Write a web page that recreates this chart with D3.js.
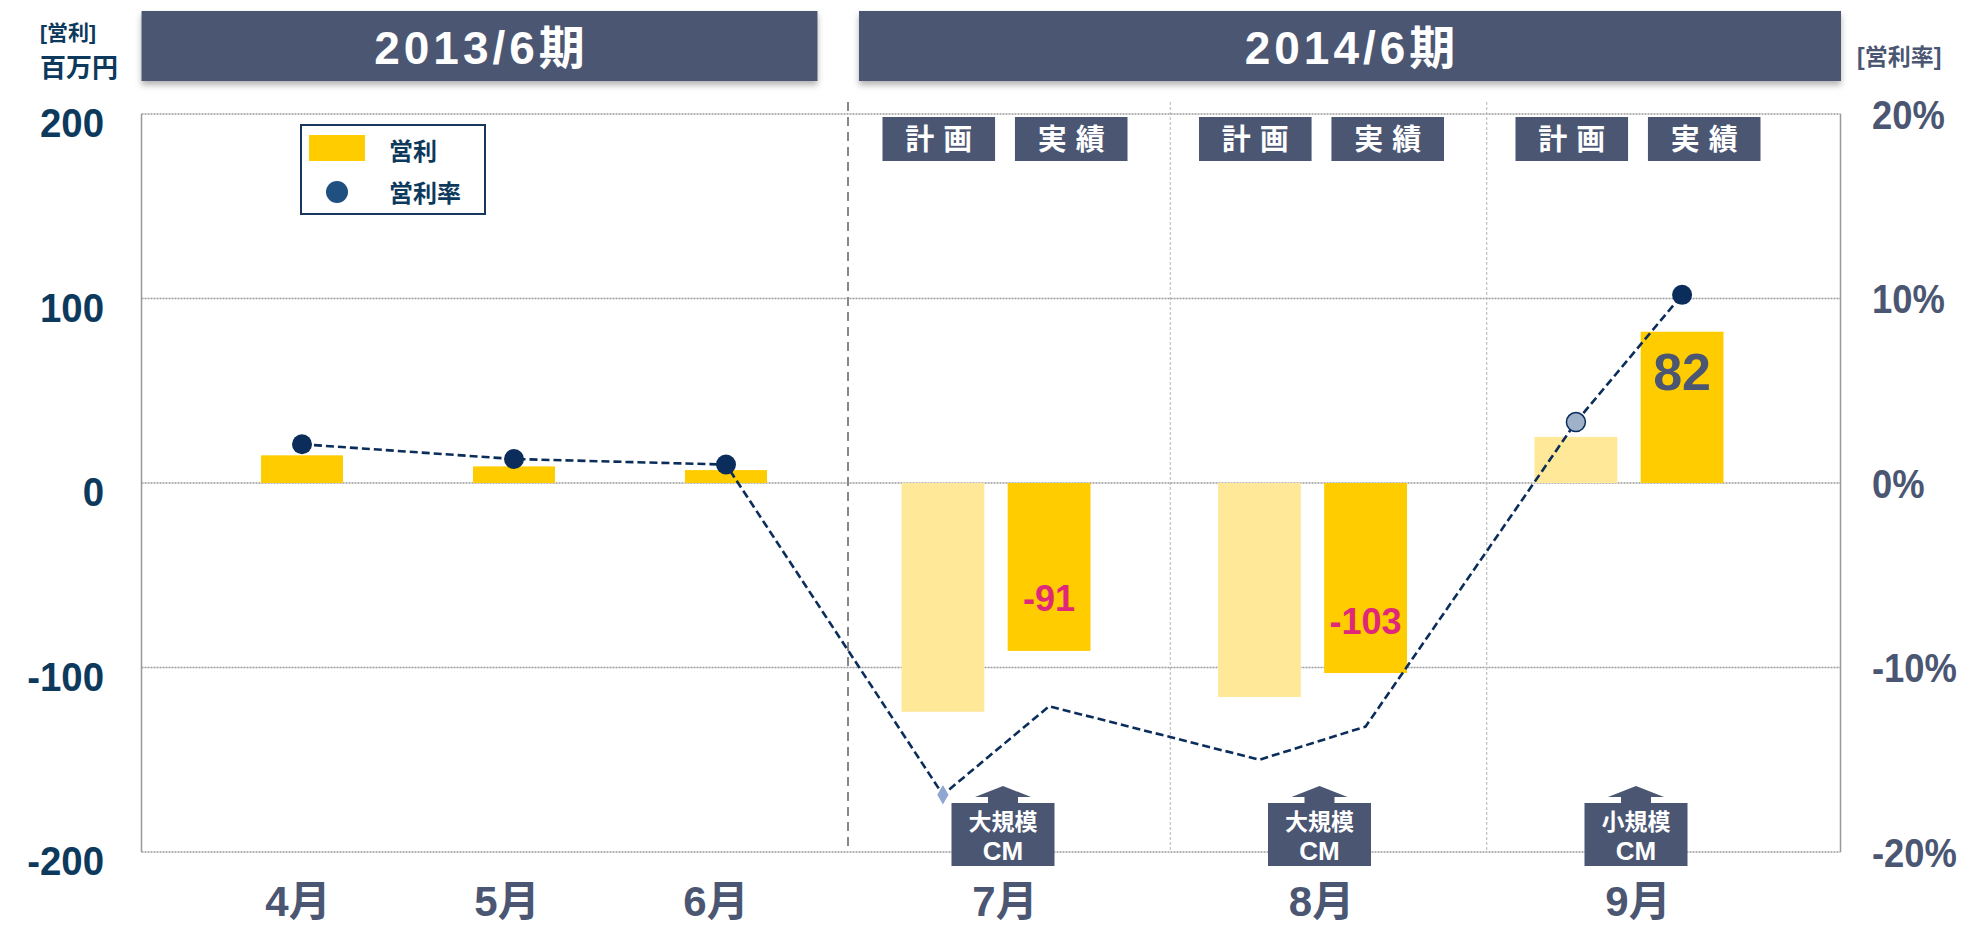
<!DOCTYPE html>
<html>
<head>
<meta charset="utf-8">
<script src="https://cdn.jsdelivr.net/npm/d3@7"></script>
<style>
  html, body { margin: 0; padding: 0; background: #fff; }
  svg { display: block; }
  text { font-family: "Liberation Sans Narrow", "Liberation Sans", "Noto Sans CJK JP", sans-serif; font-weight: bold; }
</style>
</head>
<body>
<svg id="chart" width="1964" height="927"></svg>
<script>
// ---------- data ----------
const periods = ["2013/6期", "2014/6期"];
const months1 = ["4月", "5月", "6月"];
const profit1 = [15, 9, 7];
const ratio1 = [2.1, 1.3, 1.0];
const months2 = ["7月", "8月", "9月"];
const kinds = ["計画", "実績"];
const profitPlan = [-124, -116, 25];
const profitActual = [-91, -103, 82];
const ratioPlan = [-16.9, -15.0, 3.3];
const ratioActual = [-12.1, -13.2, 10.2];
const cmLabels = ["大規模", "大規模", "小規模"];
const leftTicks = [200, 100, 0, -100, -200];
const rightTicks = [20, 10, 0, -10, -20];
const legendItems = ["営利", "営利率"];

// ---------- layout ----------
const plot = { left: 141.5, right: 1840.5, top: 114, bottom: 852 };
const sepX = 848;
const svg = d3.select("#chart");

const C = {
  slate: "#4B5673",
  teal: "#0D3A5C",
  navy: "#0B2D5B",
  actual: "#FFCC00",
  plan: "#FFE999",
  grid: "#9a9a9a",
  pink: "#E0287A"
};

const y = d3.scaleLinear().domain([-200, 200]).range([plot.bottom, plot.top]);
const yR = d3.scaleLinear().domain([-20, 20]).range([plot.bottom, plot.top]);
const x1 = d3.scalePoint().domain(months1).range([302, 726]);
const x2 = d3.scalePoint().domain(months2).range([1005, 1638]);
const inner = d3.scaleBand().domain(kinds).range([-103.5, 85.5]).paddingInner(0.22);
const boxBand = d3.scaleBand().domain(kinds).range([-122.5, 122.5]).paddingInner(0.15);
const barW1 = 82;

// filters
const defs = svg.append("defs");
const f = defs.append("filter").attr("id", "shadow").attr("x", "-5%").attr("y", "-20%").attr("width", "110%").attr("height", "150%");
f.append("feDropShadow").attr("dx", 0).attr("dy", 4).attr("stdDeviation", 3).attr("flood-color", "#000").attr("flood-opacity", 0.3);

// ---------- header boxes ----------
const periodScale = d3.scaleOrdinal().domain(periods).range([[141.5, 817.5], [859, 1841]]);
const hdr = svg.append("g");
periods.forEach(p => {
  const [a, b] = periodScale(p);
  hdr.append("rect").attr("x", a).attr("y", 11).attr("width", b - a).attr("height", 70)
    .attr("fill", C.slate).attr("filter", "url(#shadow)");
  hdr.append("text").attr("x", (a + b) / 2 + 2).attr("y", 48).attr("text-anchor", "middle")
    .attr("dominant-baseline", "central").attr("fill", "#fff").attr("font-size", 46)
    .attr("letter-spacing", 4).text(p);
});

// ---------- gridlines & axes frame ----------
const g = svg.append("g");
g.selectAll("line.hgrid").data(leftTicks).join("line").attr("class", "hgrid")
  .attr("x1", plot.left).attr("x2", plot.right)
  .attr("y1", d => y(d)).attr("y2", d => y(d))
  .attr("stroke", C.grid).attr("stroke-width", 1.3).attr("stroke-dasharray", "2,1");

const step2 = x2.step();
g.selectAll("line.vsep").data(months2.slice(0, 2)).join("line").attr("class", "vsep")
  .attr("x1", d => x2(d) + step2 / 2 + 7).attr("x2", d => x2(d) + step2 / 2 + 7)
  .attr("y1", 102).attr("y2", plot.bottom)
  .attr("stroke", "#b5b5b5").attr("stroke-width", 1).attr("stroke-dasharray", "3,2");

g.append("line").attr("x1", plot.left).attr("x2", plot.left).attr("y1", plot.top).attr("y2", plot.bottom)
  .attr("stroke", "#999").attr("stroke-width", 1.5);
g.append("line").attr("x1", plot.right).attr("x2", plot.right).attr("y1", plot.top).attr("y2", plot.bottom)
  .attr("stroke", "#999").attr("stroke-width", 1.5);

g.append("line").attr("x1", sepX).attr("x2", sepX).attr("y1", 102).attr("y2", plot.bottom)
  .attr("stroke", "#888").attr("stroke-width", 2).attr("stroke-dasharray", "9,6");

// ---------- axis labels ----------
const leftAxis = d3.axisLeft(y).tickValues(leftTicks).tickSize(0).tickPadding(0).tickFormat(d => d);
const la = svg.append("g").attr("transform", `translate(104,0)`).call(leftAxis);
la.select(".domain").remove();
la.selectAll("text").attr("fill", C.teal).attr("font-size", 40).attr("dy", "0.42em")
  .style("font-family", "'Liberation Sans','Noto Sans CJK JP',sans-serif").style("font-weight", "bold")
  .attr("transform", "translate(0,6) scale(0.96,1)");

const rightAxis = d3.axisRight(yR).tickValues(rightTicks).tickSize(0).tickPadding(0).tickFormat(d => d + "%");
const ra = svg.append("g").attr("transform", `translate(1872,0)`).call(rightAxis);
ra.select(".domain").remove();
ra.selectAll("text").attr("fill", C.slate).attr("font-size", 40).attr("dy", "0.36em")
  .style("font-family", "'Liberation Sans','Noto Sans CJK JP',sans-serif").style("font-weight", "bold")
  .attr("transform", "scale(0.91,1)");

svg.append("text").attr("x", 40).attr("y", 32).attr("fill", C.teal).attr("font-size", 21)
  .attr("dominant-baseline", "central").text("[営利]");
svg.append("text").attr("x", 40).attr("y", 68).attr("fill", C.teal).attr("font-size", 26)
  .attr("dominant-baseline", "central").text("百万円");
svg.append("text").attr("x", 1857).attr("y", 57).attr("fill", C.slate).attr("font-size", 23)
  .attr("dominant-baseline", "central").text("[営利率]");

// ---------- bars ----------
const bars = svg.append("g");
bars.selectAll("rect.p1").data(months1).join("rect").attr("class", "p1")
  .attr("x", d => x1(d) - barW1 / 2).attr("width", barW1)
  .attr("y", (d, i) => y(Math.max(0, profit1[i])))
  .attr("height", (d, i) => Math.abs(y(profit1[i]) - y(0)))
  .attr("fill", C.actual);

const series2 = [profitPlan, profitActual];
kinds.forEach((k, ki) => {
  bars.selectAll("rect.k" + ki).data(months2).join("rect").attr("class", "k" + ki)
    .attr("x", d => x2(d) + inner(k)).attr("width", inner.bandwidth())
    .attr("y", (d, i) => y(Math.max(0, series2[ki][i])))
    .attr("height", (d, i) => Math.abs(y(series2[ki][i]) - y(0)))
    .attr("fill", ki === 0 ? C.plan : C.actual);
});

bars.selectAll("text.val").data(months2).join("text").attr("class", "val")
  .attr("x", d => x2(d) + inner("実績") + inner.bandwidth() / 2)
  .attr("y", (d, i) => profitActual[i] < 0 ? y(profitActual[i]) - 52 : y(profitActual[i]) + 40)
  .attr("text-anchor", "middle").attr("dominant-baseline", "central")
  .attr("fill", (d, i) => profitActual[i] < 0 ? C.pink : C.slate)
  .attr("font-size", (d, i) => profitActual[i] < 0 ? 36 : 52)
  .text((d, i) => profitActual[i]);

// ---------- plan / actual header tags ----------
const tags = svg.append("g");
months2.forEach(m => {
  kinds.forEach(k => {
    const bx = x2(m) + boxBand(k);
    tags.append("rect").attr("x", bx).attr("y", 117).attr("width", boxBand.bandwidth()).attr("height", 44)
      .attr("fill", C.slate);
    tags.append("text").attr("x", bx + boxBand.bandwidth() / 2).attr("y", 140)
      .attr("text-anchor", "middle").attr("dominant-baseline", "central")
      .attr("fill", "#fff").attr("font-size", 29).attr("letter-spacing", 9)
      .attr("dx", 4.5).text(k);
  });
});

// ---------- ratio line ----------
const pts = [];
months1.forEach((m, i) => pts.push([x1(m), yR(ratio1[i])]));
months2.forEach((m, i) => {
  pts.push([x2(m) + inner("計画") + inner.bandwidth() / 2, yR(ratioPlan[i])]);
  pts.push([x2(m) + inner("実績") + inner.bandwidth() / 2, yR(ratioActual[i])]);
});
svg.append("path").attr("d", d3.line()(pts)).attr("fill", "none")
  .attr("stroke", C.navy).attr("stroke-width", 2.6).attr("stroke-dasharray", "8,4");

const mk = svg.append("g");
months1.forEach((m, i) => {
  mk.append("circle").attr("cx", x1(m)).attr("cy", yR(ratio1[i])).attr("r", 10).attr("fill", C.navy);
});
mk.append("path").attr("d", d3.symbol(d3.symbolDiamond, 110)())
  .attr("transform", `translate(${pts[3][0]},${pts[3][1]})`).attr("fill", "#8FA6D2");
mk.append("circle").attr("cx", pts[7][0]).attr("cy", pts[7][1]).attr("r", 9.5)
  .attr("fill", "#9FB2C9").attr("stroke", C.navy).attr("stroke-width", 1.5);
mk.append("circle").attr("cx", pts[8][0]).attr("cy", pts[8][1]).attr("r", 10).attr("fill", C.navy);

// ---------- CM callouts ----------
const cm = svg.append("g");
months2.forEach((m, i) => {
  const cx = x2(m) - 2;
  cm.append("path").attr("d", `M${cx},786 L${cx + 28},797 L${cx + 15},797 L${cx + 15},804 L${cx - 15},804 L${cx - 15},797 L${cx - 28},797 Z`)
    .attr("fill", C.slate);
  cm.append("rect").attr("x", cx - 51.5).attr("y", 803).attr("width", 103).attr("height", 63).attr("fill", C.slate);
  cm.append("text").attr("x", cx).attr("y", 822).attr("text-anchor", "middle").attr("dominant-baseline", "central")
    .attr("fill", "#fff").attr("font-size", 23).text(cmLabels[i]);
  cm.append("text").attr("x", cx).attr("y", 851).attr("text-anchor", "middle").attr("dominant-baseline", "central")
    .attr("fill", "#fff").attr("font-size", 26).text("CM");
});

// ---------- month labels ----------
const ml = svg.append("g");
months1.forEach((m, i) => ml.append("text").attr("x", x1(m) - 4 - i * 3).attr("y", 901).attr("text-anchor", "middle")
  .attr("dominant-baseline", "central").attr("fill", C.slate).attr("font-size", 42).text(m));
months2.forEach(m => ml.append("text").attr("x", x2(m)).attr("y", 901).attr("text-anchor", "middle")
  .attr("dominant-baseline", "central").attr("fill", C.slate).attr("font-size", 42).text(m));

// ---------- legend ----------
const lg = svg.append("g");
lg.append("rect").attr("x", 301).attr("y", 125).attr("width", 184).attr("height", 89)
  .attr("fill", "#fff").attr("stroke", "#17375E").attr("stroke-width", 2);
lg.append("rect").attr("x", 309).attr("y", 135).attr("width", 56).attr("height", 26).attr("fill", C.actual);
lg.append("circle").attr("cx", 337).attr("cy", 192).attr("r", 11).attr("fill", "#1F5080");
legendItems.forEach((t, i) => lg.append("text").attr("x", 389).attr("y", 151 + i * 42)
  .attr("dominant-baseline", "central").attr("fill", C.teal).attr("font-size", 24).text(t));
</script>
</body>
</html>
